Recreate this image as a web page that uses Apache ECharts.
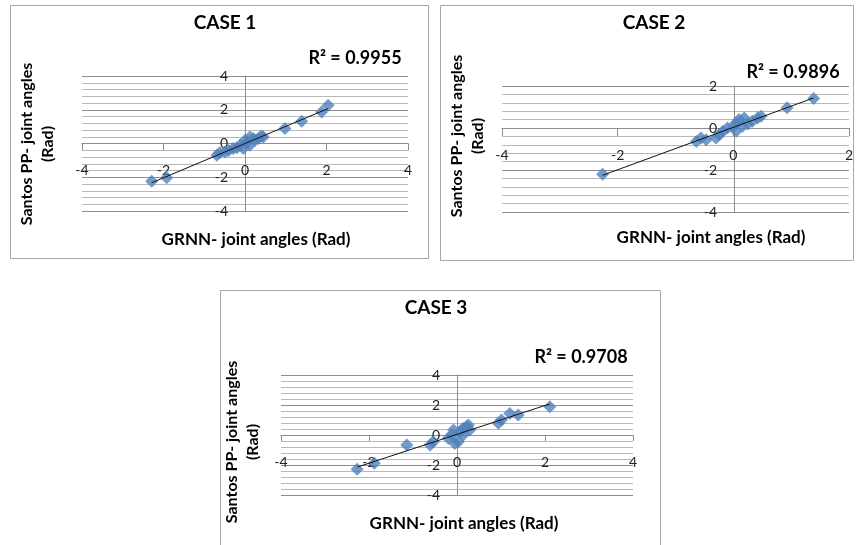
<!DOCTYPE html>
<html>
<head>
<meta charset="utf-8">
<script src="https://cdn.jsdelivr.net/npm/echarts@6/dist/echarts.min.js"></script>
<style>
  html, body { margin: 0; padding: 0; background: #ffffff; }
  #chart { width: 856px; height: 545px; }
</style>
</head>
<body>
<div id="chart"></div>
<script>
// GRNN vs Santos PP joint angles (rad), three test cases
const case1X = [-2.29, -1.92, -0.69, -0.62, -0.49, -0.40, -0.29, -0.20, -0.12, -0.04, 0.00, 0.05, 0.12, 0.12, 0.20, 0.25, 0.33, 0.40, 0.45, 0.98, 1.39, 1.88, 2.04];
const case1Y = [-2.23, -2.03, -0.70, -0.55, -0.50, -0.42, -0.30, -0.25, -0.10, -0.30, 0.20, 0.05, 0.39, -0.10, 0.30, 0.20, 0.30, 0.45, 0.39, 0.89, 1.32, 1.87, 2.27];

const case2X = [-2.26, -0.64, -0.56, -0.47, -0.30, -0.24, -0.18, -0.10, 0.00, 0.05, 0.10, 0.19, 0.16, 0.25, 0.33, 0.42, 0.48, 0.05, 0.93, 1.39];
const case2Y = [-2.20, -0.64, -0.48, -0.56, -0.48, -0.32, -0.16, 0.00, 0.08, 0.24, 0.40, 0.48, 0.08, 0.19, 0.32, 0.48, 0.56, -0.16, 0.96, 1.40];

const case3X = [-2.27, -1.88, -1.14, -0.61, -0.54, -0.20, -0.12, -0.08, -0.05, 0.03, 0.07, 0.14, 0.22, 0.29, 0.26, 0.14, 0.94, 1.01, 1.20, 1.39, 2.11];
const case3Y = [-2.28, -1.89, -0.67, -0.67, -0.45, -0.22, 0.00, 0.33, -0.56, -0.45, 0.22, 0.45, 0.56, 0.33, 0.67, 0.00, 0.78, 1.00, 1.44, 1.33, 1.89];

const caseTitles = ['CASE 1', 'CASE 2', 'CASE 3'];
const r2Labels = ['R\u00B2 = 0.9955', 'R\u00B2 = 0.9896', 'R\u00B2 = 0.9708'];
const xTitle = 'GRNN- joint angles (Rad)';
const yTitle = 'Santos PP- joint angles\n(Rad)';

// axis ranges per case: [xmin, xmax, ymin, ymax]
const ranges = [[-4, 4, -4, 4], [-4, 2, -4, 2], [-4, 4, -4, 4]];

const FONT = 'Lato, "Liberation Sans", sans-serif';
const BLUE = '#4F81BD';

function pairs(xs, ys) { return xs.map((x, i) => [x, ys[i]]); }

// least-squares trend line over the data's x extent
function trend(xs, ys) {
  const n = xs.length;
  let sx = 0, sy = 0, sxx = 0, sxy = 0;
  for (let i = 0; i < n; i++) { sx += xs[i]; sy += ys[i]; sxx += xs[i] * xs[i]; sxy += xs[i] * ys[i]; }
  const b = (n * sxy - sx * sy) / (n * sxx - sx * sx);
  const a = (sy - b * sx) / n;
  const lo = Math.min(...xs), hi = Math.max(...xs);
  return [[lo, a + b * lo], [hi, a + b * hi]];
}

const grids = [
  { left: 82, top: 76, width: 326, height: 135 },
  { left: 502, top: 86, width: 348, height: 126 },
  { left: 281, top: 375, width: 352, height: 120 }
];
const tickLen = [7, 8, 6];

const xAxes = [], yAxes = [], series = [];
const sets = [[case1X, case1Y], [case2X, case2Y], [case3X, case3Y]];

sets.forEach((s, i) => {
  const r = ranges[i];
  const g = grids[i];
  // axes cross at the origin: shift each axis (line, ticks, labels) inward
  const xOff = -g.height * (0 - r[2]) / (r[3] - r[2]);
  const yOff = -g.width * (0 - r[0]) / (r[1] - r[0]);
  xAxes.push({
    type: 'value', gridIndex: i, min: r[0], max: r[1], interval: 2,
    position: 'bottom', offset: xOff,
    axisLine: { onZero: false, lineStyle: { color: '#8c8c8c', width: 1 } },
    axisTick: { show: true, inside: false, length: tickLen[i], lineStyle: { color: '#8c8c8c' } },
    axisLabel: { margin: 20, color: '#222', fontFamily: FONT, fontSize: 14 },
    splitLine: { show: false }
  });
  yAxes.push({
    type: 'value', gridIndex: i, min: r[2], max: r[3], interval: 2,
    position: 'left', offset: yOff,
    axisLine: { onZero: false, lineStyle: { color: '#8c8c8c', width: 1 } },
    axisTick: { show: false },
    axisLabel: { margin: 17, color: '#222', fontFamily: FONT, fontSize: 14 },
    splitLine: { show: true, lineStyle: { color: '#8c8c8c', width: 1 } },
    minorTick: { show: false, splitNumber: 5 },
    minorSplitLine: { show: true, lineStyle: { color: '#b8b8b8', width: 1 } }
  });
  series.push({
    type: 'scatter', xAxisIndex: i, yAxisIndex: i,
    symbol: 'diamond', symbolSize: 13,
    itemStyle: { color: BLUE },
    data: pairs(s[0], s[1]), z: 2
  });
  series.push({
    type: 'line', xAxisIndex: i, yAxisIndex: i,
    data: trend(s[0], s[1]), symbol: 'none', silent: true,
    lineStyle: { color: '#111', width: 1 }, z: 3
  });
});

// panel frames and text
const frames = [
  { x: 10.5, y: 5.5, w: 418, h: 253 },
  { x: 440.5, y: 5.5, w: 413, h: 255 },
  { x: 220.5, y: 290.5, w: 440, h: 260 }
];
const titlePos = [[225, 23], [654, 23], [436, 308]];
const r2Pos = [[355, 58], [793, 72], [581, 357]];
const xTitlePos = [[256, 240], [711, 238], [464, 524]];
const yTitlePos = [[37, 144], [467, 136], [242, 442]];

const graphic = [];
frames.forEach(f => graphic.push({
  type: 'rect', shape: { x: f.x, y: f.y, width: f.w, height: f.h },
  style: { fill: 'none', stroke: '#a6a6a6', lineWidth: 1 }, z: -1
}));
caseTitles.forEach((t, i) => graphic.push({
  type: 'text', x: titlePos[i][0], y: titlePos[i][1],
  style: { text: t, font: 'bold 19px ' + FONT, fill: '#000', align: 'center', verticalAlign: 'middle' }
}));
r2Labels.forEach((t, i) => graphic.push({
  type: 'text', x: r2Pos[i][0], y: r2Pos[i][1],
  style: { text: t, font: 'bold 18px ' + FONT, fill: '#000', align: 'center', verticalAlign: 'middle' }
}));
xTitlePos.forEach(p => graphic.push({
  type: 'text', x: p[0], y: p[1],
  style: { text: xTitle, font: 'bold 17px ' + FONT, fill: '#000', align: 'center', verticalAlign: 'middle' }
}));
yTitlePos.forEach(p => graphic.push({
  type: 'text', x: p[0], y: p[1], rotation: Math.PI / 2,
  style: { text: yTitle, font: 'bold 16px ' + FONT, fill: '#000', align: 'center', verticalAlign: 'middle', lineHeight: 21 }
}));

const chart = echarts.init(document.getElementById('chart'), null, { renderer: 'canvas' });
chart.setOption({
  backgroundColor: '#ffffff',
  animation: false,
  grid: grids,
  xAxis: xAxes,
  yAxis: yAxes,
  series: series,
  graphic: graphic
});
</script>
</body>
</html>
